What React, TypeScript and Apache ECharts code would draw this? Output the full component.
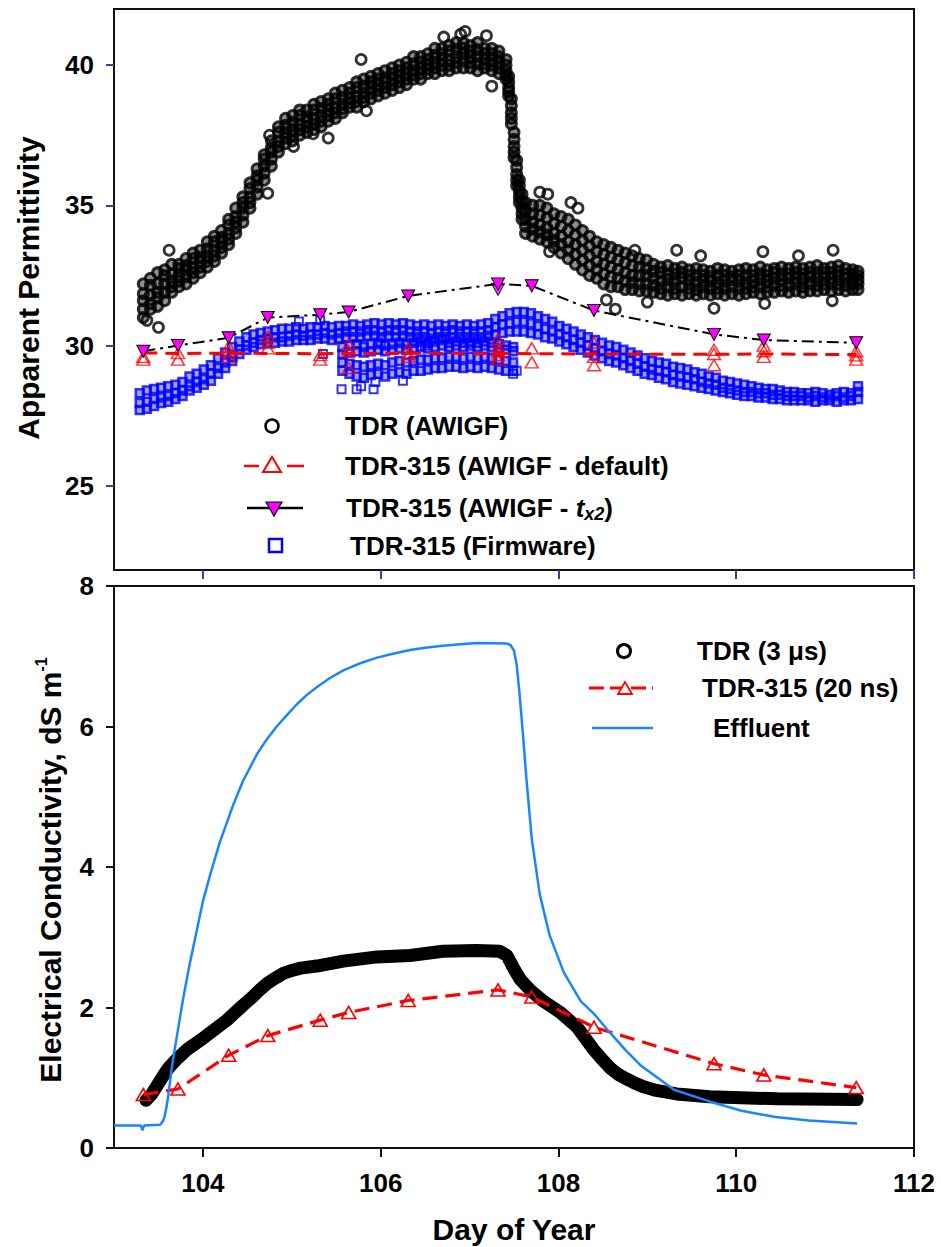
import React, { useEffect, useRef } from 'react';
import * as echarts from 'echarts';

const FONT = "'Liberation Sans', Arial, Helvetica, sans-serif";
const TICK_BLUE = '#3d3da3';

// ---------- X ticks (Day of Year) ----------
const dayTicks = [104, 106, 108, 110, 112];
const permTicks = [25, 30, 35, 40];

// ---------- Top panel: TDR (AWIGF) scatter band ----------
const awigfDay = [
  103.33, 103.41, 103.49, 103.57, 103.65, 103.73, 103.81, 103.89, 103.97, 104.05, 104.13, 104.21, 104.29,
  104.37, 104.45, 104.53, 104.61, 104.69, 104.77, 104.85, 104.93, 105.01, 105.09, 105.17, 105.25, 105.33,
  105.41, 105.49, 105.57, 105.65, 105.73, 105.81, 105.89, 105.97, 106.05, 106.13, 106.21, 106.29, 106.37,
  106.45, 106.53, 106.61, 106.69, 106.77, 106.85, 106.93, 107.01, 107.09, 107.17, 107.25, 107.33, 107.41,
  107.44, 107.47, 107.5, 107.53, 107.56, 107.59,
  107.63, 107.71, 107.79, 107.87, 107.95, 108.03, 108.11, 108.19, 108.27, 108.35, 108.43, 108.51, 108.59,
  108.67, 108.75, 108.83, 108.91, 108.99,
  109.07, 109.15, 109.23, 109.31, 109.39, 109.47, 109.55, 109.63, 109.71, 109.79, 109.87, 109.95, 110.03,
  110.11, 110.19, 110.27, 110.35, 110.43, 110.51, 110.59, 110.67, 110.75, 110.83, 110.91, 110.99, 111.07,
  111.15, 111.23, 111.31, 111.37,
];
const awigfHi = [
  32.2, 32.4, 32.6, 32.7, 32.9, 32.9, 33.1, 33.3, 33.4, 33.7, 33.9, 34.1, 34.5,
  34.9, 35.3, 35.8, 36.3, 36.8, 37.3, 37.8, 38.1, 38.2, 38.4, 38.4, 38.6, 38.7,
  38.8, 39.0, 39.1, 39.2, 39.4, 39.5, 39.6, 39.7, 39.8, 39.9, 40.0, 40.1, 40.3,
  40.3, 40.4, 40.6, 40.6, 40.7, 40.8, 40.8, 40.7, 40.8, 40.6, 40.6, 40.5, 40.2,
  39.6, 38.8, 37.6, 36.6, 35.9, 35.4,
  35.1, 35.0, 35.0, 34.9, 34.7, 34.6, 34.5, 34.3, 34.1, 33.9, 33.7, 33.6, 33.5,
  33.4, 33.3, 33.2, 33.1, 33.05,
  32.9, 32.8, 32.85, 32.75, 32.8, 32.7, 32.75, 32.7, 32.65, 32.75, 32.7, 32.65, 32.7,
  32.75, 32.7, 32.8, 32.7, 32.75, 32.8, 32.75, 32.8, 32.75, 32.8, 32.85, 32.75, 32.8,
  32.85, 32.75, 32.7, 32.65,
];
const awigfUpper = [
  31.85, 32.15, 32.2, 32.5, 32.55, 32.75, 32.85, 33.1, 33.15, 33.45, 33.7, 33.85, 34.3,
  34.6, 35.1, 35.6, 36.05, 36.65, 37.05, 37.6, 37.85, 37.95, 38.2, 38.15, 38.4, 38.45,
  38.6, 38.8, 38.85, 39.0, 39.2, 39.25, 39.4, 39.5, 39.55, 39.7, 39.8, 39.9, 40.05,
  40.1, 40.2, 40.35, 40.4, 40.5, 40.55, 40.6, 40.5, 40.55, 40.4, 40.4, 40.3, 40.0,
  39.4, 38.55, 37.35, 36.35, 35.7, 35.15,
  34.8, 34.7, 34.65, 34.55, 34.35, 34.25, 34.1, 33.95, 33.75, 33.55, 33.35, 33.25, 33.15,
  33.05, 32.95, 32.85, 32.8, 32.75,
  32.65, 32.6, 32.55, 32.55, 32.6, 32.5, 32.5, 32.5, 32.45, 32.5, 32.5, 32.45, 32.5,
  32.5, 32.5, 32.55, 32.5, 32.6, 32.55, 32.55, 32.6, 32.55, 32.6, 32.6, 32.6, 32.6,
  32.65, 32.55, 32.55, 32.5,
];
const awigfMid = [
  31.6, 31.8, 31.9, 32.2, 32.3, 32.5, 32.7, 32.8, 33.0, 33.2, 33.4, 33.7, 34.0,
  34.4, 34.9, 35.3, 35.9, 36.4, 36.9, 37.3, 37.6, 37.7, 37.9, 38.0, 38.1, 38.2,
  38.4, 38.5, 38.6, 38.8, 38.9, 39.0, 39.2, 39.3, 39.4, 39.5, 39.6, 39.7, 39.8,
  39.9, 40.0, 40.1, 40.2, 40.2, 40.3, 40.4, 40.3, 40.3, 40.2, 40.2, 40.1, 39.8,
  39.2, 38.3, 37.1, 36.1, 35.5, 34.9,
  34.5, 34.4, 34.3, 34.2, 34.0, 33.9, 33.7, 33.6, 33.4, 33.2, 33.0, 32.9, 32.8,
  32.7, 32.6, 32.5, 32.5, 32.5,
  32.4, 32.3, 32.35, 32.3, 32.4, 32.3, 32.25, 32.3, 32.3, 32.25, 32.3, 32.35, 32.3,
  32.25, 32.3, 32.35, 32.3, 32.4, 32.35, 32.4, 32.4, 32.35, 32.45, 32.4, 32.45, 32.4,
  32.45, 32.4, 32.4, 32.35,
];
const awigfLower = [
  31.3, 31.5, 31.7, 31.9, 32.1, 32.3, 32.45, 32.6, 32.8, 33.0, 33.2, 33.5, 33.8,
  34.2, 34.65, 35.1, 35.65, 36.15, 36.65, 37.1, 37.4, 37.5, 37.7, 37.8, 37.9, 38.0,
  38.2, 38.3, 38.45, 38.65, 38.7, 38.85, 39.0, 39.1, 39.2, 39.3, 39.4, 39.5, 39.65,
  39.7, 39.85, 39.9, 40.0, 40.0, 40.1, 40.15, 40.1, 40.05, 40.05, 40.0, 39.9, 39.65,
  39.05, 38.1, 36.9, 35.9, 35.3, 34.7,
  34.25, 34.15, 34.05, 33.95, 33.75, 33.6, 33.4, 33.25, 33.05, 32.85, 32.7, 32.55, 32.45,
  32.4, 32.3, 32.25, 32.2, 32.2,
  32.15, 32.05, 32.1, 32.05, 32.1, 32.05, 32.0, 32.1, 32.05, 32.05, 32.05, 32.1, 32.05,
  32.05, 32.1, 32.1, 32.1, 32.15, 32.15, 32.15, 32.2, 32.1, 32.2, 32.15, 32.2, 32.2,
  32.2, 32.15, 32.2, 32.2,
];
const awigfLo = [
  31.0, 31.3, 31.4, 31.6, 31.9, 32.1, 32.2, 32.4, 32.6, 32.8, 33.0, 33.3, 33.6,
  34.0, 34.4, 34.9, 35.4, 35.9, 36.4, 36.9, 37.2, 37.3, 37.5, 37.6, 37.7, 37.8,
  38.0, 38.1, 38.3, 38.5, 38.5, 38.7, 38.8, 38.9, 39.0, 39.1, 39.2, 39.3, 39.5,
  39.5, 39.7, 39.7, 39.8, 39.8, 39.9, 39.9, 39.9, 39.8, 39.9, 39.8, 39.7, 39.5,
  38.9, 37.9, 36.7, 35.7, 35.1, 34.5,
  34.0, 33.9, 33.8, 33.7, 33.5, 33.3, 33.1, 32.9, 32.7, 32.5, 32.4, 32.2, 32.1,
  32.1, 32.0, 32.0, 31.95, 31.95,
  31.9, 31.85, 31.8, 31.85, 31.8, 31.85, 31.8, 31.85, 31.8, 31.85, 31.8, 31.85, 31.8,
  31.85, 31.9, 31.85, 31.9, 31.9, 31.95, 31.9, 31.95, 31.9, 31.95, 31.95, 32.0, 31.95,
  32.0, 31.95, 32.0, 32.0,
];
const awigfOutDay = [
  103.5, 103.62, 103.37, 104.73, 104.75, 105.02, 105.24, 105.41, 105.78, 105.84, 106.71, 106.9, 106.95,
  107.19, 107.25, 107.79, 107.88, 108.14, 108.22, 107.9, 108.54, 108.64, 108.86, 109.33, 109.75, 110.3,
  110.32, 111.09, 111.08, 109.0, 109.6, 110.7,
];
const awigfOutVal = [
  30.65, 33.4, 30.9, 35.43, 37.5, 37.1, 37.55, 37.4, 40.2, 38.37, 41.0, 41.1, 41.2,
  41.05, 39.25, 35.47, 35.4, 35.1, 34.9, 33.35, 31.63, 31.3, 33.4, 33.4, 31.33, 33.35,
  31.5, 33.4, 31.6, 31.55, 33.2, 33.2,
];

// ---------- Top panel: TDR-315 (Firmware) squares ----------
const fwDay = [
  103.29, 103.37, 103.45, 103.53, 103.61, 103.69, 103.77, 103.85, 103.93, 104.01, 104.09, 104.17, 104.25,
  104.33, 104.41, 104.49, 104.57, 104.65, 104.73, 104.81, 104.89, 104.97, 105.05, 105.13, 105.21, 105.29,
  105.37, 105.45, 105.53, 105.61, 105.69, 105.77, 105.85, 105.93, 106.01, 106.09, 106.17, 106.25, 106.33,
  106.41, 106.49, 106.57, 106.65, 106.73, 106.81, 106.89, 106.97, 107.05, 107.13, 107.21, 107.29, 107.37,
  107.45, 107.53, 107.61, 107.69, 107.77, 107.85, 107.93, 108.01, 108.09, 108.17, 108.25, 108.33, 108.41,
  108.49, 108.57, 108.65, 108.73, 108.81, 108.89, 108.97, 109.05, 109.13, 109.21, 109.29, 109.37, 109.45,
  109.53, 109.61, 109.69, 109.77, 109.85, 109.93, 110.01, 110.09, 110.17, 110.25, 110.33, 110.41, 110.49,
  110.57, 110.65, 110.73, 110.81, 110.89, 110.97, 111.05, 111.13, 111.21, 111.29, 111.37,
];
const fwHi = [
  28.3, 28.4, 28.45, 28.5, 28.55, 28.6, 28.7, 28.9, 29.0, 29.15, 29.3, 29.55, 29.75,
  29.95, 30.15, 30.3, 30.4, 30.45, 30.5, 30.55, 30.6, 30.6, 30.65, 30.6, 30.65, 30.65,
  30.7, 30.65, 30.7, 30.7, 30.75, 30.7, 30.75, 30.8, 30.75, 30.8, 30.75, 30.8, 30.75,
  30.7, 30.75, 30.7, 30.75, 30.7, 30.75, 30.7, 30.75, 30.7, 30.75, 30.8, 30.95, 31.05,
  31.15, 31.2, 31.2, 31.15, 31.05, 30.95, 30.85, 30.7, 30.6, 30.5, 30.4, 30.3, 30.2,
  30.1, 30.0, 29.95, 29.85, 29.75, 29.65, 29.55, 29.45, 29.4, 29.35, 29.25, 29.2, 29.15,
  29.05, 29.0, 28.9, 28.85, 28.75, 28.7, 28.65, 28.6, 28.55, 28.5, 28.45, 28.45, 28.4,
  28.35, 28.35, 28.3, 28.3, 28.35, 28.3, 28.25, 28.3, 28.35, 28.3, 28.55,
];
const fwMid = [
  27.95, 28.0, 28.1, 28.15, 28.2, 28.3, 28.4, 28.55, 28.7, 28.8, 29.0, 29.2, 29.4,
  29.6, 29.85, 30.0, 30.1, 30.2, 30.25, 30.3, 30.3, 30.35, 30.4, 30.35, 30.4, 30.4,
  30.45, 30.4, 30.45, 30.5, 30.5, 30.5, 30.55, 30.55, 30.5, 30.55, 30.55, 30.55, 30.5,
  30.5, 30.5, 30.45, 30.5, 30.5, 30.55, 30.5, 30.5, 30.5, 30.5, 30.55, 30.65, 30.75,
  30.8, 30.85, 30.85, 30.8, 30.7, 30.6, 30.5, 30.4, 30.3, 30.2, 30.1, 30.0, 29.9,
  29.8, 29.7, 29.65, 29.55, 29.45, 29.35, 29.25, 29.15, 29.1, 29.05, 28.95, 28.9, 28.85,
  28.8, 28.7, 28.65, 28.6, 28.5, 28.45, 28.4, 28.35, 28.35, 28.3, 28.3, 28.25, 28.25,
  28.2, 28.2, 28.2, 28.15, 28.2, 28.15, 28.15, 28.2, 28.15, 28.2, 28.35,
];
const fwLo = [
  27.7, 27.75, 27.85, 27.95, 28.0, 28.1, 28.2, 28.4, 28.5, 28.6, 28.75, 29.0, 29.2,
  29.45, 29.7, 29.85, 29.95, 30.05, 30.1, 30.1, 30.15, 30.15, 30.2, 30.2, 30.2, 30.25,
  30.25, 30.2, 30.25, 30.3, 30.3, 30.3, 30.35, 30.35, 30.3, 30.35, 30.3, 30.35, 30.3,
  30.3, 30.3, 30.25, 30.3, 30.3, 30.3, 30.3, 30.3, 30.3, 30.3, 30.35, 30.4, 30.45,
  30.5, 30.5, 30.5, 30.45, 30.4, 30.3, 30.25, 30.15, 30.05, 29.95, 29.85, 29.75, 29.65,
  29.55, 29.45, 29.4, 29.3, 29.2, 29.1, 29.0, 28.95, 28.85, 28.8, 28.7, 28.65, 28.6,
  28.55, 28.5, 28.45, 28.4, 28.35, 28.3, 28.25, 28.2, 28.2, 28.15, 28.15, 28.1, 28.1,
  28.05, 28.05, 28.05, 28.05, 28.0, 28.05, 28.05, 28.0, 28.05, 28.05, 28.1,
];
const cloudDay = [
  105.57, 105.65, 105.73, 105.81, 105.89, 105.97, 106.05, 106.13, 106.21, 106.29, 106.37, 106.45, 106.53,
  106.61, 106.69, 106.77, 106.85, 106.93, 107.01, 107.09, 107.17, 107.25, 107.33, 107.41, 107.49,
];
const cloudTop = [
  29.95, 30.0, 30.05, 29.95, 30.05, 30.1, 30.0, 30.05, 30.1, 30.05, 30.1, 30.15, 30.1,
  30.15, 30.2, 30.1, 30.15, 30.1, 30.15, 30.1, 30.15, 30.1, 30.05, 30.0, 29.95,
];
const cloudHi = [
  29.7, 29.75, 29.8, 29.75, 29.8, 29.85, 29.8, 29.85, 29.9, 29.85, 29.9, 29.95, 29.9,
  29.95, 30.0, 29.95, 30.0, 29.95, 30.0, 29.95, 30.0, 29.95, 29.9, 29.85, 29.8,
];
const cloudMid = [
  29.4, 29.35, 29.3, 29.25, 29.3, 29.35, 29.3, 29.4, 29.45, 29.4, 29.45, 29.5, 29.5,
  29.55, 29.55, 29.6, 29.6, 29.55, 29.6, 29.55, 29.6, 29.55, 29.5, 29.45, 29.4,
];
const cloudLo = [
  29.1, 29.0, 28.9, 28.85, 28.95, 29.0, 28.9, 29.0, 29.05, 29.0, 29.1, 29.1, 29.15,
  29.2, 29.2, 29.25, 29.25, 29.2, 29.25, 29.2, 29.25, 29.2, 29.15, 29.1, 29.1,
];
const fwOutDay = [105.08, 105.32, 105.56, 105.73, 105.78, 105.92, 105.94, 107.49, 107.53, 106.0, 106.5, 107.0, 105.35, 106.25];
const fwOutVal = [30.86, 30.9, 28.44, 28.44, 28.55, 28.44, 28.7, 29.0, 29.1, 30.05, 30.0, 30.1, 29.7, 28.75];

// ---------- Top panel: TDR-315 (AWIGF - default) and (AWIGF - tx2) ----------
const probeDay = [103.33, 103.72, 104.29, 104.73, 105.32, 105.64, 106.31, 107.32, 107.7, 108.4, 109.75, 110.31, 111.35];
const defaultMean = [29.74, 29.72, 29.73, 29.72, 29.71, 29.72, 29.73, 29.72, 29.71, 29.7, 29.69, 29.7, 29.68];
const defTriDay = [
  103.33, 103.33, 103.72, 103.72, 104.29, 104.29, 104.29, 104.73, 104.73, 104.73, 105.32, 105.32,
  105.64, 105.64, 105.64, 106.31, 106.31, 106.31, 107.32, 107.32, 107.32, 107.32, 107.32, 107.7, 107.7,
  108.4, 108.4, 108.4, 109.75, 109.75, 109.75, 110.31, 110.31, 110.31, 111.35, 111.35, 111.35,
];
const defTriVal = [
  29.6, 29.5, 29.73, 29.5, 29.97, 29.8, 29.6, 30.33, 30.1, 29.9, 29.66, 29.5,
  30.05, 29.8, 29.2, 29.9, 29.7, 29.6, 30.24, 29.95, 29.8, 29.66, 29.5, 29.9, 29.4,
  30.1, 29.6, 29.3, 29.85, 29.7, 29.3, 30.0, 29.8, 29.6, 29.8, 29.65, 29.5,
];
const tx2Val = [29.8, 30.0, 30.28, 31.0, 31.1, 31.2, 31.77, 32.2, 32.13, 31.25, 30.4, 30.2, 30.1];
const tx2ExtraDay = [107.32];
const tx2ExtraVal = [32.0];

// ---------- Bottom panel ----------
const ecTicks = [0, 2, 4, 6, 8];
const tdrDay = [
  103.36, 103.42, 103.48, 103.57, 103.62, 103.71, 103.77, 103.82, 104.0, 104.27, 104.45, 104.55, 104.64,
  104.73, 104.83, 104.91, 105.01, 105.1, 105.28, 105.58, 105.96, 106.33, 106.7, 107.08, 107.34, 107.42,
  107.5, 107.57, 107.68, 107.83, 108.02, 108.21, 108.39, 108.5, 108.58, 108.67, 108.77, 108.85, 108.95,
  109.1, 109.33, 109.5, 109.7, 110.46, 111.36,
];
const tdrEc = [
  0.68, 0.76, 0.88, 1.06, 1.15, 1.27, 1.34, 1.4, 1.56, 1.82, 2.03, 2.14, 2.25,
  2.35, 2.43, 2.49, 2.53, 2.56, 2.59, 2.66, 2.72, 2.74, 2.8, 2.81, 2.8, 2.74,
  2.55, 2.4, 2.25, 2.09, 1.93, 1.72, 1.41, 1.25, 1.14, 1.05, 0.98, 0.93, 0.875,
  0.82, 0.77, 0.75, 0.73, 0.7, 0.69,
];
const ec315Val = [0.76, 0.84, 1.32, 1.6, 1.82, 1.93, 2.1, 2.25, 2.15, 1.72, 1.2, 1.04, 0.86];
const effDay = [
  103.0, 103.3, 103.32, 103.34, 103.52, 103.55, 103.57, 103.59, 103.61, 103.63, 103.65, 103.68, 103.71,
  103.78, 103.85, 103.93, 104.0, 104.08, 104.19, 104.34, 104.45, 104.61, 104.72, 104.83, 104.95, 105.06,
  105.17, 105.28, 105.43, 105.58, 105.77, 105.96, 106.15, 106.33, 106.5, 106.7, 106.9, 107.08, 107.42,
  107.46, 107.5, 107.53, 107.56, 107.6, 107.64, 107.7, 107.79, 107.9, 108.06, 108.25, 108.4, 108.56,
  108.75, 108.93, 109.3, 109.68, 110.06, 110.44, 110.82, 111.36,
];
const effEc = [
  0.32, 0.32, 0.26, 0.32, 0.33, 0.38, 0.45, 0.58, 0.74, 0.94, 1.14, 1.38, 1.61,
  2.14, 2.61, 3.09, 3.51, 3.88, 4.35, 4.88, 5.22, 5.61, 5.82, 6.0, 6.17, 6.32,
  6.45, 6.56, 6.69, 6.8, 6.9, 6.98, 7.04, 7.09, 7.12, 7.15, 7.17, 7.19, 7.18,
  7.16, 7.08, 6.88, 6.5, 5.9, 5.25, 4.4, 3.61, 3.03, 2.5, 2.09, 1.91, 1.67,
  1.4, 1.17, 0.83, 0.67, 0.53, 0.44, 0.39, 0.35,
];

const zip = (xs: number[], ys: number[]) => xs.map((x, i) => [x, ys[i]]).filter((p) => p[1] !== undefined);

const labelStyle = { fontFamily: FONT, fontWeight: 'bold', fontSize: 26, color: '#000' };

function buildOption() {
  const awigfPts = [
    ...zip(awigfDay, awigfHi),
    ...zip(awigfDay, awigfUpper),
    ...zip(awigfDay, awigfMid),
    ...zip(awigfDay, awigfLower),
    ...zip(awigfDay, awigfLo),
  ];
  const fwPts = [
    ...zip(fwDay, fwHi),
    ...zip(fwDay, fwMid),
    ...zip(fwDay, fwLo),
    ...zip(cloudDay, cloudTop),
    ...zip(cloudDay, cloudHi),
    ...zip(cloudDay, cloudMid),
    ...zip(cloudDay, cloudLo),
  ];

  const legendFont = `bold 26px ${FONT}`;
  const txt = (x: number, y: number, text: string) => ({
    type: 'text',
    x,
    y,
    z: 100,
    style: {
      text,
      font: legendFont,
      fill: '#000',
      align: 'left',
      verticalAlign: 'middle',
      textAlign: 'left',
      textVerticalAlign: 'middle',
    },
  });

  const graphics: any[] = [
    // Top legend
    { type: 'circle', z: 100, shape: { cx: 272, cy: 426, r: 6.5 }, style: { fill: 'none', stroke: '#000', lineWidth: 2.5 } },
    txt(345, 426, 'TDR (AWIGF)'),
    { type: 'line', z: 100, shape: { x1: 244, y1: 466, x2: 259, y2: 466 }, style: { stroke: '#ff0000', lineWidth: 2.5 } },
    { type: 'line', z: 100, shape: { x1: 287, y1: 466, x2: 304, y2: 466 }, style: { stroke: '#ff0000', lineWidth: 2.5 } },
    { type: 'polygon', z: 100, shape: { points: [[263, 472], [281, 472], [272, 457]] }, style: { fill: 'none', stroke: '#ff0000', lineWidth: 2 } },
    txt(345, 466, 'TDR-315 (AWIGF - default)'),
    { type: 'line', z: 100, shape: { x1: 247, y1: 508, x2: 303, y2: 508 }, style: { stroke: '#000', lineWidth: 2.5 } },
    { type: 'polygon', z: 101, shape: { points: [[266, 502], [282, 502], [274, 516]] }, style: { fill: '#ff00ff', stroke: '#000', lineWidth: 1.2 } },
    {
      type: 'text',
      x: 346,
      y: 508,
      z: 100,
      style: {
        text: '{n|TDR-315 (AWIGF - }{i|t}{s|x2}{n|)}',
        align: 'left',
        verticalAlign: 'middle',
        textAlign: 'left',
        textVerticalAlign: 'middle',
        fill: '#000',
        rich: {
          n: { fontFamily: FONT, fontWeight: 'bold', fontSize: 26, lineHeight: 30, fill: '#000', color: '#000' },
          i: { fontFamily: FONT, fontWeight: 'bold', fontStyle: 'italic', fontSize: 26, lineHeight: 30, fill: '#000', color: '#000' },
          s: { fontFamily: FONT, fontWeight: 'bold', fontStyle: 'italic', fontSize: 18, lineHeight: 12, verticalAlign: 'bottom', fill: '#000', color: '#000' },
        },
      },
    },
    { type: 'rect', z: 100, shape: { x: 269, y: 539, width: 13, height: 13 }, style: { fill: 'none', stroke: '#0000ff', lineWidth: 2.5 } },
    txt(350, 546, 'TDR-315 (Firmware)'),

    // Bottom legend
    { type: 'circle', z: 100, shape: { cx: 624, cy: 651, r: 6.5 }, style: { fill: 'none', stroke: '#000', lineWidth: 3 } },
    txt(697, 651, 'TDR (3 μs)'),
    { type: 'line', z: 100, shape: { x1: 589, y1: 688, x2: 653, y2: 688 }, style: { stroke: '#ff0000', lineWidth: 3, lineDash: [15, 6] } },
    { type: 'polygon', z: 101, shape: { points: [[618, 694], [632, 694], [625, 682]] }, style: { fill: '#fff', stroke: '#ff0000', lineWidth: 1.8 } },
    txt(702, 688, 'TDR-315 (20 ns)'),
    { type: 'line', z: 100, shape: { x1: 592, y1: 728, x2: 653, y2: 728 }, style: { stroke: '#1a85ff', lineWidth: 2.5 } },
    txt(713, 728, 'Effluent'),

    // Axis titles
    {
      type: 'text',
      x: 28,
      y: 288,
      rotation: Math.PI / 2,
      z: 100,
      style: {
        text: 'Apparent Permittivity',
        font: `bold 30px ${FONT}`,
        fill: '#000',
        align: 'center',
        verticalAlign: 'middle',
        textAlign: 'center',
        textVerticalAlign: 'middle',
      },
    },
    {
      type: 'text',
      x: 50,
      y: 870,
      rotation: Math.PI / 2,
      z: 100,
      style: {
        text: '{n|Electrical Conductivity, dS m}{s|-1}',
        align: 'center',
        verticalAlign: 'middle',
        textAlign: 'center',
        textVerticalAlign: 'middle',
        fill: '#000',
        rich: {
          n: { fontFamily: FONT, fontWeight: 'bold', fontSize: 30, lineHeight: 34, fill: '#000', color: '#000' },
          s: { fontFamily: FONT, fontWeight: 'bold', fontSize: 16, lineHeight: 12, verticalAlign: 'top', fill: '#000', color: '#000' },
        },
      },
    },
    {
      type: 'text',
      x: 514,
      y: 1229,
      z: 100,
      style: {
        text: 'Day of Year',
        font: `bold 30px ${FONT}`,
        fill: '#000',
        align: 'center',
        verticalAlign: 'middle',
        textAlign: 'center',
        textVerticalAlign: 'middle',
      },
    },
  ];

  return {
    animation: false,
    backgroundColor: '#ffffff',
    grid: [
      { left: 114, top: 9, width: 800, height: 561, show: true, borderColor: '#111', borderWidth: 2, backgroundColor: 'transparent' },
      { left: 114, top: 586, width: 800, height: 562, show: true, borderColor: '#111', borderWidth: 2, backgroundColor: 'transparent' },
    ],
    xAxis: [
      {
        gridIndex: 0,
        type: 'value',
        min: 103,
        max: 112,
        axisLine: { show: false },
        axisTick: { show: true, customValues: dayTicks, length: 9, lineStyle: { color: TICK_BLUE, width: 2 } },
        axisLabel: { show: false },
        splitLine: { show: false },
      },
      {
        gridIndex: 1,
        type: 'value',
        min: 103,
        max: 112,
        axisLine: { show: false },
        axisTick: { show: true, customValues: dayTicks, length: 9, lineStyle: { color: '#111', width: 2 } },
        axisLabel: { ...labelStyle, customValues: dayTicks, margin: 22 },
        splitLine: { show: false },
      },
    ],
    yAxis: [
      {
        gridIndex: 0,
        type: 'value',
        min: 22,
        max: 42,
        axisLine: { show: false },
        axisTick: { show: true, customValues: permTicks, length: 8, lineStyle: { color: TICK_BLUE, width: 2 } },
        axisLabel: { ...labelStyle, customValues: permTicks, margin: 20 },
        splitLine: { show: false },
      },
      {
        gridIndex: 1,
        type: 'value',
        min: 0,
        max: 8,
        interval: 2,
        axisLine: { show: false },
        axisTick: { show: true, customValues: ecTicks, length: 8, lineStyle: { color: '#111', width: 2 } },
        axisLabel: { ...labelStyle, customValues: ecTicks, margin: 20 },
        splitLine: { show: false },
      },
    ],
    series: [
      {
        name: 'TDR (AWIGF)',
        type: 'scatter',
        xAxisIndex: 0,
        yAxisIndex: 0,
        symbol: 'circle',
        symbolSize: 10,
        itemStyle: { color: 'rgba(0,0,0,0.55)', borderColor: '#000', borderWidth: 3 },
        data: awigfPts,
        silent: true,
      },
      {
        name: 'TDR (AWIGF)',
        type: 'scatter',
        xAxisIndex: 0,
        yAxisIndex: 0,
        symbol: 'circle',
        symbolSize: 10,
        itemStyle: { color: 'rgba(0,0,0,0)', borderColor: '#000', borderWidth: 2.8 },
        data: zip(awigfOutDay, awigfOutVal),
        silent: true,
      },
      {
        name: 'TDR-315 (Firmware)',
        type: 'scatter',
        xAxisIndex: 0,
        yAxisIndex: 0,
        symbol: 'rect',
        symbolSize: 8,
        itemStyle: { color: 'rgba(0,0,255,0.45)', borderColor: '#0000ff', borderWidth: 2.5 },
        data: fwPts,
        silent: true,
      },
      {
        name: 'TDR-315 (Firmware)',
        type: 'scatter',
        xAxisIndex: 0,
        yAxisIndex: 0,
        symbol: 'rect',
        symbolSize: 8,
        itemStyle: { color: 'rgba(0,0,255,0)', borderColor: '#0000ff', borderWidth: 2 },
        data: zip(fwOutDay, fwOutVal),
        silent: true,
      },
      {
        name: 'TDR-315 (AWIGF - default) line',
        type: 'line',
        xAxisIndex: 0,
        yAxisIndex: 0,
        showSymbol: false,
        lineStyle: { color: '#ff0000', width: 3, type: [14, 8] },
        data: zip(probeDay, defaultMean),
        silent: true,
      },
      {
        name: 'TDR-315 (AWIGF - default)',
        type: 'scatter',
        xAxisIndex: 0,
        yAxisIndex: 0,
        symbol: 'triangle',
        symbolSize: [13, 11],
        itemStyle: { color: 'rgba(0,0,0,0)', borderColor: '#ff0000', borderWidth: 1.5 },
        data: zip(defTriDay, defTriVal),
        silent: true,
      },
      {
        name: 'TDR-315 (AWIGF - tx2)',
        type: 'line',
        xAxisIndex: 0,
        yAxisIndex: 0,
        symbol: 'triangle',
        symbolRotate: 180,
        symbolSize: [13, 12],
        showSymbol: true,
        lineStyle: { color: '#000', width: 2, type: [12, 5, 3, 5] },
        itemStyle: { color: '#ff00ff', borderColor: '#000', borderWidth: 1 },
        data: zip(probeDay, tx2Val),
        silent: true,
      },
      {
        name: 'TDR-315 (AWIGF - tx2) extra',
        type: 'scatter',
        xAxisIndex: 0,
        yAxisIndex: 0,
        symbol: 'triangle',
        symbolRotate: 180,
        symbolSize: [13, 12],
        itemStyle: { color: '#ff00ff', borderColor: '#000', borderWidth: 1 },
        data: zip(tx2ExtraDay, tx2ExtraVal),
        silent: true,
      },
      {
        name: 'TDR (3 μs)',
        type: 'line',
        xAxisIndex: 1,
        yAxisIndex: 1,
        showSymbol: false,
        smooth: false,
        lineStyle: { color: '#000', width: 13, cap: 'round', join: 'round' },
        data: zip(tdrDay, tdrEc),
        silent: true,
      },
      {
        name: 'TDR-315 (20 ns)',
        type: 'line',
        xAxisIndex: 1,
        yAxisIndex: 1,
        symbol: 'triangle',
        symbolSize: [14, 12],
        showSymbol: true,
        lineStyle: { color: '#ff0000', width: 3.2, type: [15, 8] },
        itemStyle: { color: 'rgba(255,255,255,0)', borderColor: '#ff0000', borderWidth: 1.6 },
        data: zip(probeDay, ec315Val),
        silent: true,
      },
      {
        name: 'Effluent',
        type: 'line',
        xAxisIndex: 1,
        yAxisIndex: 1,
        showSymbol: false,
        smooth: false,
        lineStyle: { color: '#1a85ff', width: 2.5, join: 'round' },
        data: zip(effDay, effEc),
        silent: true,
      },
    ],
    graphic: { elements: graphics },
  };
}

export default function App() {
  const ref = useRef<HTMLDivElement>(null);
  useEffect(() => {
    document.body.style.margin = '0';
    const chart = echarts.init(ref.current as HTMLDivElement, undefined, { renderer: 'svg' });
    chart.setOption(buildOption() as any);
    return () => {
      chart.dispose();
    };
  }, []);
  return <div ref={ref} style={{ width: 941, height: 1247, background: '#fff' }} />;
}
